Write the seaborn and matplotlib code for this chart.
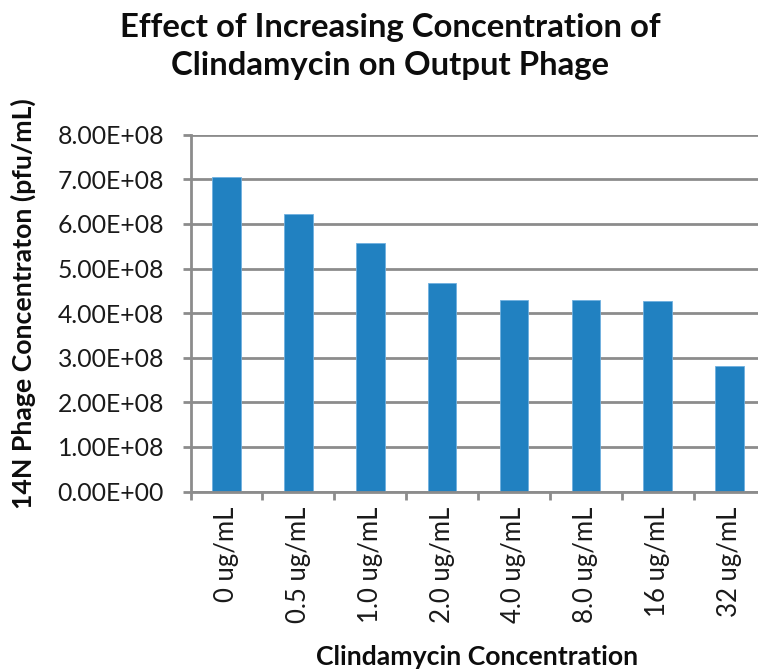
import matplotlib
matplotlib.use("Agg")
import matplotlib.pyplot as plt
import seaborn as sns
import pandas as pd
from matplotlib.ticker import FuncFormatter, FixedLocator

# Phage output for each clindamycin concentration
concentrations = ["0 ug/mL", "0.5 ug/mL", "1.0 ug/mL", "2.0 ug/mL",
                  "4.0 ug/mL", "8.0 ug/mL", "16 ug/mL", "32 ug/mL"]
phage_pfu_per_ml = [7.05e8, 6.23e8, 5.58e8, 4.67e8, 4.30e8, 4.30e8, 4.28e8, 2.82e8]
y_ticks = [0, 1e8, 2e8, 3e8, 4e8, 5e8, 6e8, 7e8, 8e8]
title_lines = ["Effect of Increasing Concentration of", "Clindamycin on Output Phage"]

df = pd.DataFrame({"Concentration": concentrations, "Phage": phage_pfu_per_ml})

sns.set_theme(style="white")
plt.rcParams["font.family"] = ["Lato", "DejaVu Sans"]

W, H = 758, 671
fig = plt.figure(figsize=(W / 100, H / 100), dpi=100)
left, right, bottom, top = 190.5, 765.6, 491.5, 134.7
ax = fig.add_axes([left / W, (H - bottom) / H, (right - left) / W, (bottom - top) / H])

bar_color = "#2181c1"
sns.barplot(data=df, x="Concentration", y="Phage", ax=ax, color=bar_color,
            width=0.4, saturation=1, edgecolor="#6fb0e0", linewidth=0.6, zorder=3)

grid_color = "#8c8c8c"
text_color = "#1a1a1a"
ax.set_xlim(-0.5, len(concentrations) - 0.5)
ax.set_ylim(0, 8e8)
ax.yaxis.set_major_locator(FixedLocator(y_ticks))
ax.yaxis.set_major_formatter(FuncFormatter(lambda v, p: f"{v:.2E}"))
ax.grid(axis="y", color=grid_color, linewidth=2.0, zorder=0)
ax.grid(axis="x", visible=False)

for side in ["top", "right"]:
    ax.spines[side].set_visible(False)
for side in ["left", "bottom"]:
    ax.spines[side].set_color(grid_color)
    ax.spines[side].set_linewidth(2.0)
    ax.spines[side].set_zorder(4)

# category labels at bar centres, tick marks at category boundaries
ax.set_xticks(range(len(concentrations)))
ax.set_xticklabels(concentrations, rotation=90, fontsize=18.5, color=text_color)
ax.tick_params(axis="x", which="major", length=0, pad=11)
ax.set_xticks([i - 0.5 for i in range(len(concentrations) + 1)], minor=True)
ax.tick_params(axis="x", which="minor", bottom=True, length=6, width=2.0, color=grid_color)

ax.tick_params(axis="y", which="major", left=True, length=6, width=2.0,
               color=grid_color, labelsize=17.8, labelcolor=text_color, pad=13)

ax.set_xlabel("")
ax.set_ylabel("")
fig.text(477 / W, 1 - 665 / H, "Clindamycin Concentration", ha="center", va="baseline",
         fontsize=19.2, fontweight="bold", color="#0d0d0d")
fig.text(23 / W, 1 - 304 / H, "14N Phage Concentraton (pfu/mL)", ha="center", va="center",
         rotation=90, fontsize=19.2, fontweight="bold", color="#0d0d0d")

for line, baseline_px in zip(title_lines, [37, 75]):
    fig.text(390 / W, 1 - baseline_px / H, line, ha="center", va="baseline",
             fontsize=23.7, fontweight="bold", color="#0d0d0d")

fig.savefig("out.png", dpi=100)
